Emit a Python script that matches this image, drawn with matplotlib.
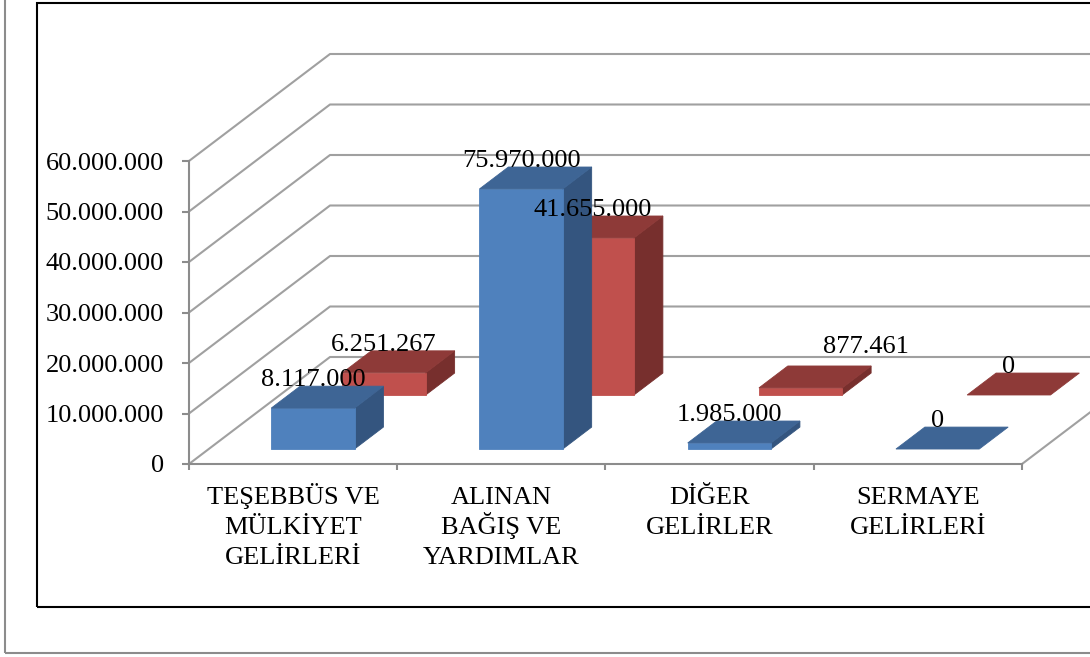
import matplotlib
matplotlib.use('Agg')
import matplotlib.pyplot as plt
from matplotlib.patches import Polygon, Rectangle
from matplotlib.ticker import FuncFormatter

plt.rcParams['font.family'] = ['Liberation Serif', 'DejaVu Serif']

categories = ['TEŞEBBÜS VE\nMÜLKİYET\nGELİRLERİ', 'ALINAN\nBAĞIŞ VE\nYARDIMLAR',
              'DİĞER\nGELİRLER', 'SERMAYE\nGELİRLERİ']
# label values printed on the bars
labels_blue = [8117000, 75970000, 1985000, 0]
labels_red = [6251267, 41655000, 877461, 0]
# bar heights as drawn against the value axis (millions)
heights_blue = [8.1, 51.5, 1.2, 0]
heights_red = [4.4, 31.1, 1.4, 0]
yticks = [0, 10, 20, 30, 40, 50, 60]

# oblique projection: depth 0..1 shifts right and up
DX = 141 / 208.25
DV = 107 / 5.05


def proj(x, v, d):
    return x + d * DX, v + d * DV


def fmt(n):
    return f'{int(round(n)):,}'.replace(',', '.')


fig = plt.figure(figsize=(10.9, 6.57), dpi=100)
ax = fig.add_axes([0, 0, 1, 1])
ax.set_xlim(-189 / 208.25, (1090 - 189) / 208.25)
ax.set_ylim((464 - 657) / 5.05, 464 / 5.05)
ax.patch.set_visible(False)

grid_c = '#a0a0a0'
# back wall / left wall grid
for v in yticks:
    p0 = proj(0, v, 0)
    p1 = proj(0, v, 1)
    p2 = proj(5, v, 1)
    ax.plot([p0[0], p1[0], p2[0]], [p0[1], p1[1], p2[1]], color=grid_c, lw=1.5, zorder=1)
# right floor edge
q0, q1 = proj(4, 0, 0), proj(4, 0, 1)
ax.plot([q0[0], q1[0]], [q0[1], q1[1]], color=grid_c, lw=1.5, zorder=1)


def draw_bar(i, h, d0, d1, cols, z):
    x0, x1 = i + 0.3, i + 0.7
    front, top, side = cols
    pts_side = [proj(x1, 0, d0), proj(x1, h, d0), proj(x1, h, d1), proj(x1, 0, d1)]
    pts_top = [proj(x0, h, d0), proj(x1, h, d0), proj(x1, h, d1), proj(x0, h, d1)]
    pts_front = [proj(x0, 0, d0), proj(x1, 0, d0), proj(x1, h, d0), proj(x0, h, d0)]
    if h > 0:
        ax.add_patch(Polygon(pts_side, closed=True, fc=side, ec=side, lw=0.6, zorder=z))
        ax.add_patch(Polygon(pts_front, closed=True, fc=front, ec=front, lw=0.6, zorder=z))
    ax.add_patch(Polygon(pts_top, closed=True, fc=top, ec=top, lw=0.6, zorder=z))


blue_cols = ('#4f81bd', '#3e6595', '#34557f')
red_cols = ('#c0504d', '#8e3a38', '#772f2d')
red_d = (0.645, 0.85)
blue_d = (0.14, 0.345)

for i, h in enumerate(heights_red):
    draw_bar(i, h, red_d[0], red_d[1], red_cols, 3)
for i, h in enumerate(heights_blue):
    draw_bar(i, h, blue_d[0], blue_d[1], blue_cols, 4)

# data labels
nudge = {('red', 2): (65, 13)}
px_per_v = 5.05
for name, heights, vals, dd in [('blue', heights_blue, labels_blue, blue_d),
                                ('red', heights_red, labels_red, red_d)]:
    for i, (h, val) in enumerate(zip(heights, vals)):
        x = proj(i + 0.5, h, dd[0])[0]
        y = proj(i + 0.5, h, dd[1])[1] + 6 / px_per_v
        off = nudge.get((name, i), (0, 0))
        ax.annotate(fmt(val), xy=(x, y), xytext=off, textcoords='offset pixels',
                    ha='center', va='center', fontsize=19, zorder=6)

# axes spines as the chart's front axes
for s in ['top', 'right']:
    ax.spines[s].set_visible(False)
ax.spines['left'].set_position(('data', 0))
ax.spines['left'].set_bounds(0, 60)
ax.spines['bottom'].set_position(('data', 0))
ax.spines['bottom'].set_bounds(0, 4)
for s in ['left', 'bottom']:
    ax.spines[s].set_color('#8c8c8c')
    ax.spines[s].set_linewidth(1.5)
    ax.spines[s].set_zorder(2)

ax.set_yticks(yticks)
ax.yaxis.set_major_formatter(FuncFormatter(lambda v, p: fmt(v * 1e6)))
ax.tick_params(axis='y', direction='out', length=5, width=1.5, color='#8c8c8c',
               pad=13, labelsize=19)
ax.set_xticks([0, 1, 2, 3, 4])
ax.set_xticklabels([])
ax.tick_params(axis='x', which='major', direction='out', length=4.5, width=1.5,
               color='#8c8c8c')

# category labels, one line at a time so baselines line up
for i, cat in enumerate(categories):
    for k, line in enumerate(cat.split('\n')):
        ax.annotate(line, xy=(i + 0.5, 0), xytext=(0, -40 - 30 * k),
                    textcoords='offset pixels', ha='center', va='baseline',
                    fontsize=19)

# outer frames
ax.add_patch(Rectangle((5 / 1090, 4 / 657), 2, 2, transform=ax.transAxes,
                       fill=False, ec='#8c8c8c', lw=1.5, clip_on=False, zorder=0))
ax.add_patch(Rectangle((37 / 1090, 50 / 657), 2, (657 - 3 - 50) / 657,
                       transform=ax.transAxes, fill=False, ec='black', lw=1.5,
                       clip_on=False, zorder=0))

fig.savefig('out.png', dpi=100)
